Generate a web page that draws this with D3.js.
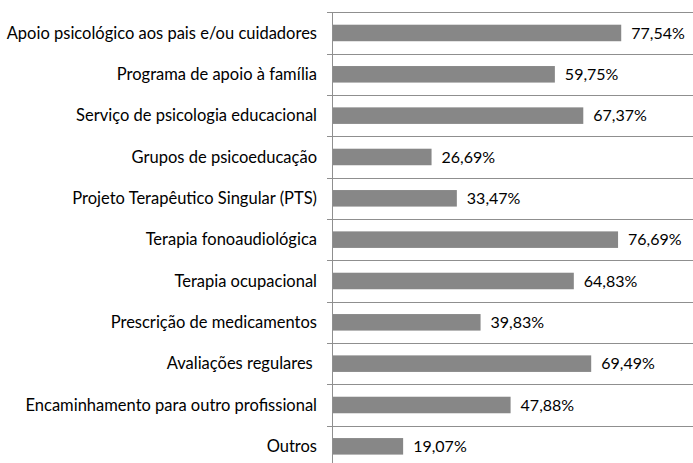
<!DOCTYPE html>
<html>
<head>
<meta charset="utf-8">
<script src="https://cdn.jsdelivr.net/npm/d3@7"></script>
<style>
  body { margin: 0; background: #fff; }
  text { font-family: Lato, "Open Sans", sans-serif; fill: #000; white-space: pre; }
</style>
</head>
<body>
<div id="chart"></div>
<script>
// categories, top to bottom
var categories = [
  "Apoio psicológico aos pais e/ou cuidadores",
  "Programa de apoio à família",
  "Serviço de psicologia educacional",
  "Grupos de psicoeducação",
  "Projeto Terapêutico Singular (PTS)",
  "Terapia fonoaudiológica",
  "Terapia ocupacional",
  "Prescrição de medicamentos",
  "Avaliações regulares ",
  "Encaminhamento para outro profissional",
  "Outros"
];
// percent values
var values = [77.54, 59.75, 67.37, 26.69, 33.47, 76.69, 64.83, 39.83, 69.49, 47.88, 19.07];
var valueLabels = ["77,54%", "59,75%", "67,37%", "26,69%", "33,47%", "76,69%", "64,83%", "39,83%", "69,49%", "47,88%", "19,07%"];

var data = categories.map(function(c, i) {
  return {cat: c, value: values[i], label: valueLabels[i]};
});

var width = 693, height = 463;

var svg = d3.select("#chart")
  .append("svg")
    .attr("width", width)
    .attr("height", height);

// x scale (chart is cropped on the right, 100% falls outside)
var x = d3.scaleLinear()
    .domain([0, 100])
    .range([332, 705]);

// y scale
var y = d3.scaleBand()
    .domain(categories)
    .range([12.3, 467])
    .paddingInner(0.6)
    .paddingOuter(0.3);

// category separator lines
var step = y.step();
var edges = d3.range(categories.length + 1).map(function(i) { return 12.3 + i * step; });

svg.selectAll(".sep")
  .data(edges)
  .join("line")
    .attr("class", "sep")
    .attr("x1", x(0) - 5)
    .attr("x2", width)
    .attr("y1", d => Math.round(d) + 0.5)
    .attr("y2", d => Math.round(d) + 0.5)
    .attr("stroke", "#8f8f8f")
    .attr("stroke-width", 1);

// bars
svg.selectAll(".bar")
  .data(data)
  .join("rect")
    .attr("class", "bar")
    .attr("x", x(0))
    .attr("y", d => y(d.cat))
    .attr("width", d => x(d.value) - x(0))
    .attr("height", y.bandwidth())
    .attr("fill", "#878787");

// vertical axis line
svg.append("line")
    .attr("x1", x(0) + 0.5)
    .attr("x2", x(0) + 0.5)
    .attr("y1", 12)
    .attr("y2", height)
    .attr("stroke", "#8f8f8f");

// category labels
svg.selectAll(".cat")
  .data(data)
  .join("text")
    .attr("class", "cat")
    .attr("x", 317)
    .attr("y", d => y(d.cat) + y.bandwidth() / 2)
    .attr("dy", "0.35em")
    .attr("text-anchor", "end")
    .style("font-size", "16.5px")
    .text(d => d.cat);

// value labels
svg.selectAll(".val")
  .data(data)
  .join("text")
    .attr("class", "val")
    .attr("x", d => x(d.value) + 10)
    .attr("y", d => y(d.cat) + y.bandwidth() / 2)
    .attr("dy", "0.35em")
    .style("font-size", "16px")
    .text(d => d.label);
</script>
</body>
</html>
